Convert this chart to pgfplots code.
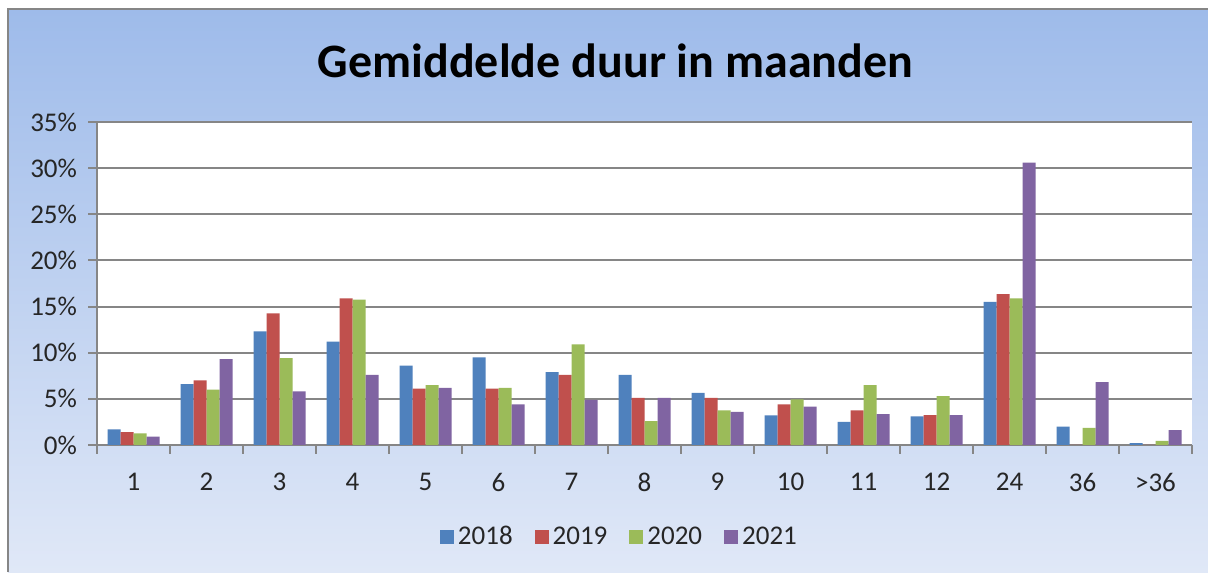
\documentclass[border=0pt]{standalone}
\usepackage{pgfplots}
\pgfplotsset{compat=1.18}
\usepackage{pgfplotstable}
\usepackage{fontspec}
\setmainfont{Carlito}

\definecolor{c18}{HTML}{4F81BD}
\definecolor{c19}{HTML}{C0504D}
\definecolor{c20}{HTML}{9BBB59}
\definecolor{c21}{HTML}{8064A2}
\definecolor{bgtop}{RGB}{158,187,234}
\definecolor{bgbot}{RGB}{224,232,247}
\definecolor{gridgray}{RGB}{134,134,134}

% share per duration (months), in percent
\pgfplotstableread{
x  y18  y19   y20   y21
0  1.7  1.4   1.25  0.9
1  6.6  7.0   6.0   9.3
2  12.3 14.25 9.4   5.8
3  11.2 15.9  15.75 7.6
4  8.6  6.1   6.5   6.2
5  9.5  6.1   6.2   4.4
6  7.9  7.6   10.9  4.9
7  7.6  5.1   2.6   5.1
8  5.65 5.1   3.75  3.6
9  3.2  4.4   4.95  4.15
10 2.5  3.75  6.5   3.35
11 3.1  3.25  5.3   3.25
12 15.5 16.35 15.9  30.6
13 2.0  0     1.85  6.8
14 0.2  0     0.45  1.6
}\data

\begin{document}
\begin{tikzpicture}[x=1pt,y=1pt]
\fill[white] (0,0) rectangle (604,286);
\shade[top color=bgtop,bottom color=bgbot] (4,0) rectangle (604,281.5);
\draw[gridgray, line width=1pt] (4,0) -- (4,281.5) -- (604,281.5);
\node[font=\bfseries\fontsize{24}{29}\selectfont] at (307.75,255.5) {Gemiddelde duur in maanden};

\begin{axis}[
    at={(48.5pt,63.5pt)}, anchor=south west,
    width=547.5pt, height=161.5pt, scale only axis,
    ybar=0pt, bar width=6.5pt,
    xmin=-0.5, xmax=14.5, ymin=0, ymax=35,
    axis x line*=bottom, axis y line*=left,
    axis line style={gridgray, line width=1pt},
    axis background/.style={fill=white},
    ymajorgrids, grid style={gridgray, line width=1pt},
    xtick={0,...,14},
    xticklabels={1,2,3,4,5,6,7,8,9,10,11,12,24,36,{>36}},
    major x tick style={draw=none},
    minor xtick={-0.5,0.5,...,14.5},
    minor tick length=4.5pt,
    minor x tick style={gridgray, line width=1pt},
    ytick={0,5,...,35},
    yticklabels={0\%,5\%,10\%,15\%,20\%,25\%,30\%,35\%},
    major tick length=4.5pt,
    ytick style={gridgray, line width=1pt},
    tick align=outside,
    tick label style={font=\fontsize{13.5}{16}\selectfont, text=black!85},
    /pgf/number format/assume math mode=true,
    xticklabel style={yshift=-6pt},
    yticklabel style={xshift=-2pt},
    legend style={at={(0.478,-0.285)}, anchor=center, draw=none, fill=none,
        legend columns=4, font=\fontsize{13.5}{16}\selectfont, text=black!85,
        /tikz/every even column/.append style={column sep=9pt}},
    legend image code/.code={\fill[#1] (-2pt,-3.5pt) rectangle (5pt,3.5pt);},
]
\addplot[fill=c18, draw=none] table[x=x, y=y18] {\data};
\addplot[fill=c19, draw=none] table[x=x, y=y19] {\data};
\addplot[fill=c20, draw=none] table[x=x, y=y20] {\data};
\addplot[fill=c21, draw=none] table[x=x, y=y21] {\data};
\legend{2018,2019,2020,2021}
\end{axis}
\pgfresetboundingbox
\useasboundingbox (0,0) rectangle (604,286);
\end{tikzpicture}
\end{document}
